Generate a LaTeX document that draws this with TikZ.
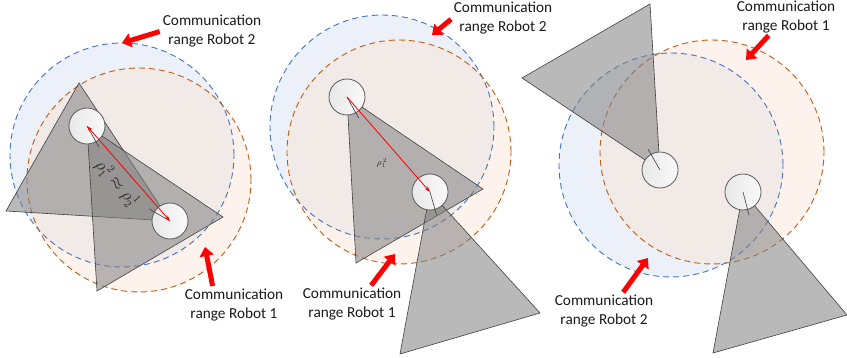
\documentclass[tikz,border=0pt]{standalone}
\usepackage{fontspec}
\setmainfont{Carlito}
\usepackage{tikz}
\usetikzlibrary{
  positioning, arrows.meta, calc
}
\definecolor{rangeblue}{RGB}{68,114,196}
\definecolor{rangeorange}{RGB}{197,90,17}
\definecolor{bluefill}{RGB}{236,241,249}
\definecolor{orangefill}{RGB}{250,224,204}
\definecolor{robotedge}{RGB}{90,90,90}
\pgfdeclarelayer{ranges}
\pgfdeclarelayer{rings}
\pgfdeclarelayer{cones}
\pgfsetlayers{ranges,rings,cones,main}

\begin{document}
\begin{tikzpicture}[
  x=1pt, y=-1pt,
  every node/.style={font=\fontsize{15.3}{18.5}\selectfont},
  commrange/.style={circle, inner sep=0pt, minimum size=224pt},
  rangetwo/.style={commrange, fill=bluefill},
  rangeone/.style={commrange, fill=orangefill, fill opacity=0.38},
  ring/.style={dash pattern=on 6pt off 4pt, line width=0.9pt},
  ringtwo/.style={ring, draw=rangeblue},
  ringone/.style={ring, draw=rangeorange},
  cone/.style={fill=gray, fill opacity=0.55, draw=black!75, line width=0.6pt},
  robot/.style={
    circle, draw=robotedge, line width=0.8pt, minimum size=36pt,
    inner sep=0pt, left color=gray!18, right color=gray!4
  },
  heading/.style={draw=black!75, line width=0.6pt},
  link/.style={red, line width=0.8pt},
  rholabel/.style={text=black!85, font=\fontsize{16}{18}\selectfont},
  rangetext/.style={align=center, inner sep=1pt, text=black!90},
  callout/.style={-{Triangle[length=9pt,width=14pt]}, line width=5pt, red, shorten <=2pt},
]
\useasboundingbox (0,0) rectangle (847,358);

% Panel 1: robots looking at each other
\node[robot] (p1r1) at (87,126) {};
\node[robot] (p1r2) at (170,221) {};
\begin{pgfonlayer}{ranges}
  \node[rangetwo] (p1rng2) at (122,155) {};
  \node[rangeone] (p1rng1) at (139,180) {};
\end{pgfonlayer}
\begin{pgfonlayer}{rings}
  \draw[ringtwo] (p1rng2.center) circle[radius=112pt];
  \draw[ringone] (p1rng1.center) circle[radius=112pt];
\end{pgfonlayer}
\begin{pgfonlayer}{cones}
  \filldraw[cone] (p1r2.center) -- (79,83) -- (6,211) -- cycle;
  \filldraw[cone] (p1r1.center) -- (223,217) -- (97,291) -- cycle;
\end{pgfonlayer}
\draw[heading] (p1r1.center) -- ($(p1r1.center)!24pt!(160,254)$);
\draw[heading] (p1r2.center) -- ($(p1r2.center)!24pt!(42,147)$);
\draw[link, {Stealth[length=6pt,width=4pt]}-{Stealth[length=6pt,width=4pt]}]
  (p1r1.center) -- (p1r2.center)
  node[midway, sloped, below=3pt, rholabel] {$\rho_1^{\,2}\approx\rho_2^{\,1}$};

\node[rangetext] (p1txt2) at (212,31) {Communication\\range Robot 2};
\node[rangetext] (p1txt1) at (234,305) {Communication\\range Robot 1};
\coordinate (p1tip2) at (122,43);
\coordinate (p1tip1) at (205,247);
\draw[callout] (p1txt2.west) -- (p1tip2);
\draw[callout] ([xshift=-21pt]p1txt1.north) -- (p1tip1);

% Panel 2: only robot 1 sees robot 2
\node[robot] (p2r1) at (347,97) {};
\node[robot] (p2r2) at (430,192) {};
\begin{pgfonlayer}{ranges}
  \node[rangetwo] (p2rng2) at (382,127) {};
  \node[rangeone] (p2rng1) at (399,152) {};
\end{pgfonlayer}
\begin{pgfonlayer}{rings}
  \draw[ringtwo] (p2rng2.center) circle[radius=112pt];
  \draw[ringone] (p2rng1.center) circle[radius=112pt];
\end{pgfonlayer}
\begin{pgfonlayer}{cones}
  \filldraw[cone] (p2r1.center) -- (483,189) -- (356,263) -- cycle;
  \filldraw[cone] (p2r2.center) -- (400,354) -- (540,313) -- cycle;
\end{pgfonlayer}
\draw[heading] (p2r1.center) -- ($(p2r1.center)!24pt!(419,226)$);
\draw[heading] (p2r2.center) -- ($(p2r2.center)!24pt!(470,333)$);
\draw[link, -{Stealth[length=6pt,width=4pt]}] (p2r1.center) -- (p2r2.center);
\node[rholabel, font=\fontsize{9}{10}\selectfont] (p2rho) at (382,163) {$\rho_1^{\,2}$};

\node[rangetext] (p2txt2) at (503,18) {Communication\\range Robot 2};
\node[rangetext] (p2txt1) at (352,304) {Communication\\range Robot 1};
\coordinate (p2tip2) at (432,35);
\coordinate (p2tip1) at (395,254);
\draw[callout] (p2txt2.west) -- (p2tip2);
\draw[callout] ([xshift=18pt]p2txt1.north) -- (p2tip1);

% Panel 3: robots looking away
\node[robot] (p3r2) at (660,170) {};
\node[robot] (p3r1) at (743,192) {};
\begin{pgfonlayer}{ranges}
  \node[rangetwo] (p3rng2) at (671,165) {};
  \node[rangeone] (p3rng1) at (712,152) {};
\end{pgfonlayer}
\begin{pgfonlayer}{rings}
  \draw[ringtwo] (p3rng2.center) circle[radius=112pt];
  \draw[ringone] (p3rng1.center) circle[radius=112pt];
\end{pgfonlayer}
\begin{pgfonlayer}{cones}
  \filldraw[cone] (p3r2.center) -- (650,4) -- (522,78) -- cycle;
  \filldraw[cone] (p3r1.center) -- (713,353) -- (847,315) -- cycle;
\end{pgfonlayer}
\draw[heading] (p3r2.center) -- ($(p3r2.center)!24pt!(586,41)$);
\draw[heading] (p3r1.center) -- ($(p3r1.center)!24pt!(780,334)$);

\node[rangetext] (p3txt1) at (786,17) {Communication\\range Robot 1};
\node[rangetext] (p3txt2) at (604,311) {Communication\\range Robot 2};
\coordinate (p3tip1) at (746,60);
\coordinate (p3tip2) at (648,258);
\draw[callout] ([xshift=-16pt]p3txt1.south) -- (p3tip1);
\draw[callout] ([xshift=18pt]p3txt2.north) -- (p3tip2);

\end{tikzpicture}
\end{document}
